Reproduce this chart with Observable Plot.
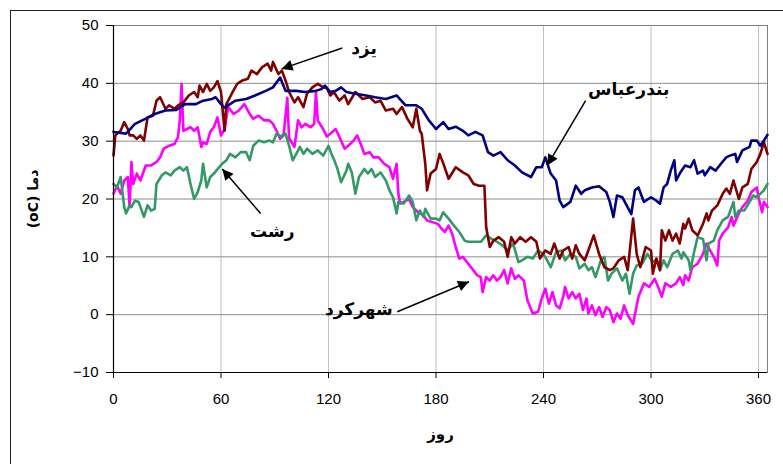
<!DOCTYPE html>
<html><head><meta charset="utf-8">
<script src="https://cdn.jsdelivr.net/npm/d3@7"></script>
<script src="https://cdn.jsdelivr.net/npm/@observablehq/plot@0.6"></script>
<style>
html,body{margin:0;padding:0;background:#fff;overflow:hidden;}
#wrap{position:relative;width:783px;height:464px;overflow:hidden;}
#frame{position:absolute;left:10px;top:10px;width:800px;height:500px;border:1px solid #222;box-sizing:border-box;pointer-events:none;}
#chart{position:absolute;left:0;top:0;}
#ytitle{position:absolute;left:-65px;top:189px;width:200px;height:20px;line-height:20px;text-align:center;
  transform:rotate(-90deg);transform-origin:50% 50%;font:bold 14px 'DejaVu Sans','Noto Sans',sans-serif;color:#000;direction:ltr;white-space:nowrap;}
</style></head><body>
<div id="wrap"><div id="chart"></div><div id="ytitle"></div><div id="frame"></div></div>
<script>
// Daily temperature (day, °C)
const bandarAbbas = [[0,31.6],[7,31.3],[12,33],[18,33.9],[23,34.7],[29,35.3],[35,35.4],[40,36.4],[46,36.4],[50,37],[55,37.3],[57,37.6],[60,36.4],[62,35.8],[68,37],[74,37.3],[79,37.9],[85,38.7],[89,39.3],[93,41],[96,38.7],[102,38.7],[107,38.5],[113,38.7],[116,39],[118,39.6],[121,38.5],[124,38.7],[127,39.3],[130,38.5],[135,38.2],[141,37.9],[146,37.6],[152,37.3],[158,37.9],[163,36.2],[169,36.2],[172,35.6],[176,33.6],[180,32.1],[184,33.3],[187,32.1],[191,32.5],[195,31.8],[198,31],[202,31.6],[206,31],[209,28.1],[212,27.5],[216,28.1],[220,26.7],[224,25.8],[228,24.6],[233,23.8],[236,25.5],[239,25.5],[241,27.2],[244,24.4],[247,23.2],[249,19.7],[251,18.6],[255,19.5],[258,22.3],[261,20.9],[263,21.5],[267,22],[271,22.2],[275,21.2],[277,19.5],[279,16.9],[281,20.6],[284,20.3],[289,17.4],[291,21.5],[293,22],[296,19.5],[300,20.3],[303,19.7],[305,19.2],[307,22],[309,22.6],[311,24.9],[313,26.7],[314,23.2],[316,24.4],[319,25.8],[322,25.5],[324,26.7],[326,24.4],[329,24.9],[330,24.1],[333,25.5],[336,24.9],[339,26.1],[342,27.2],[344,27.5],[347,27.8],[348,26.4],[351,28.4],[355,29],[356,30.1],[359,30.1],[361,29.2],[363,30.1],[365,31.1]];
const yazd = [[0,27.5],[1,31],[4,31.8],[6,33.3],[8,32.1],[9,31],[11,31],[13,30.4],[15,31],[17,30.1],[19,34.1],[22,34.4],[24,37],[26,37.6],[29,35.6],[31,36.2],[34,35.6],[36,36.2],[39,36.7],[42,37.9],[45,38.5],[47,37.6],[48,39.6],[50,38.5],[52,39.9],[54,38.7],[56,39.3],[58,40.4],[60,38.5],[62,31.8],[63,36.4],[66,38.2],[69,39.9],[72,40.5],[75,40.8],[77,42.2],[80,41.6],[83,42.8],[86,43.4],[88,42.2],[89,43.7],[92,41.6],[94,42.2],[96,40.5],[98,38.5],[101,36.7],[103,37.6],[106,35.9],[108,38.2],[111,39.3],[114,39.9],[117,39.3],[119,39.2],[121,37.9],[123,38.5],[126,37],[129,37.9],[131,36.4],[135,38.5],[139,37.3],[143,37.6],[146,36.7],[149,37],[152,35.3],[156,35.6],[158,34.7],[161,35.9],[164,33.9],[167,32.4],[169,35.6],[171,31.8],[172,31.3],[174,26.1],[175,21.5],[177,24.4],[180,25.2],[182,27.8],[184,26.2],[187,23.5],[191,25.5],[195,24.6],[198,24.1],[201,22.6],[204,22.3],[207,22.3],[208,15.1],[210,11.7],[212,12.8],[215,13.4],[218,12.6],[220,10],[222,13.4],[224,12.3],[227,13.4],[230,12.6],[233,13.4],[236,12.6],[238,9.7],[241,11.1],[244,10.5],[246,12.3],[249,9.7],[251,11.1],[254,11.7],[256,9.7],[258,12],[260,10.5],[263,9.4],[265,11.1],[268,13.7],[271,10.5],[274,8.2],[277,7.7],[279,8],[282,9.4],[285,10],[287,7.7],[290,16.6],[292,10.5],[294,8.2],[297,11.7],[300,11.1],[301,7.1],[303,9.7],[305,7.7],[306,14.6],[308,12.8],[310,14.6],[312,12.8],[314,14],[316,12.3],[318,15.7],[319,14.9],[321,16.6],[323,14.6],[326,13.7],[329,15.7],[331,17.5],[332,16.3],[334,18],[337,18.9],[340,20.9],[342,21.8],[344,20.9],[346,23.2],[349,20],[351,22],[354,22.6],[356,25.2],[359,26.4],[361,27.8],[363,29.8],[365,27.8]];
const shahrekord = [[0,20.9],[2,22.3],[4,20.9],[6,23.2],[8,23.8],[9,18.6],[10,26.4],[11,22.6],[13,24.4],[15,23.2],[18,25.8],[21,25.8],[24,26.4],[26,27.2],[28,28.7],[31,29.2],[34,29.5],[36,30.7],[37,33.6],[38,39.9],[39,31.8],[41,32.1],[43,32.4],[45,31.8],[47,32.4],[49,29],[50,29.8],[52,29.5],[54,31.6],[56,32.4],[58,34.1],[60,31],[62,32.1],[64,35.9],[67,34.7],[70,35.3],[73,36.4],[76,34.7],[78,33.9],[81,34.4],[84,33.6],[87,33.6],[89,33],[91,31.8],[93,30.4],[95,31.3],[97,37.5],[98,30.5],[101,29],[103,33.6],[105,32.4],[107,33],[110,32.4],[112,33],[113,38.5],[114,33.6],[117,32.1],[119,30.8],[121,31.3],[124,32.1],[127,30.1],[129,28.7],[131,29.2],[134,30.1],[136,31],[138,29.5],[140,27.8],[143,28.1],[145,27.2],[148,27.2],[151,26.1],[154,25.5],[156,23.5],[158,26.1],[159,20.9],[160,19.2],[162,19.5],[165,20],[167,18.6],[170,17.7],[173,17.2],[175,16.3],[178,16],[181,15.7],[183,14.9],[185,14.3],[187,15.4],[189,14],[191,11.7],[193,9.7],[195,10],[198,8.8],[200,8],[203,6.8],[205,6.5],[206,3.9],[208,6.5],[210,5.9],[212,6.8],[214,5.9],[216,6.5],[218,7.7],[220,5.4],[222,8],[224,6.2],[226,6.8],[229,5.9],[231,2.5],[234,0.2],[237,0.5],[239,2.8],[241,4.5],[243,1.9],[245,3.9],[247,1.6],[249,1.1],[251,3.1],[252,4.8],[254,2.8],[256,3.9],[258,2.8],[260,3.6],[262,0.8],[264,2.8],[265,0.2],[267,1.6],[269,-0.1],[271,1.3],[273,-0.4],[275,1.3],[277,0.8],[279,-1.3],[281,0.2],[283,-0.7],[285,1.6],[287,-0.1],[290,-1.6],[292,1.6],[293,3.1],[296,5.4],[299,4.8],[302,6.2],[304,4.8],[306,3.1],[308,5.4],[311,4.8],[314,5.4],[316,6.5],[318,5.1],[319,6.8],[321,5.9],[323,8.2],[326,8.8],[329,10.5],[331,12.3],[333,11.1],[335,10],[337,8.5],[338,12.8],[340,14],[343,15.1],[345,16.9],[346,15.4],[349,17.5],[351,18.6],[354,19.7],[356,21.2],[359,22],[360,20.3],[362,17.7],[363,19.5],[365,18.6]];
const rasht = [[0,22.6],[2,22],[4,23.8],[6,18.6],[7,17.5],[9,18.9],[10,18.6],[12,19.7],[14,19.5],[17,16.9],[19,18.9],[21,18],[23,18.3],[24,22.6],[27,24.1],[29,24.6],[32,24.1],[34,24.9],[37,25.5],[39,24.9],[41,25.5],[43,22.6],[45,20],[47,21.2],[49,23.2],[50,26.1],[52,22],[54,23.8],[56,24.4],[59,25.5],[61,26.2],[63,26.7],[65,27.8],[68,27.2],[71,28.1],[74,28.1],[76,26.7],[78,29.2],[81,30.1],[84,29.8],[87,30.1],[89,29.8],[91,31.3],[94,30.7],[96,31.3],[98,29.2],[100,26.7],[102,27.8],[104,29],[106,27.8],[108,28.7],[111,27.8],[114,28.4],[117,27.5],[120,29.2],[122,27.5],[123,26.9],[125,25.2],[127,22.9],[130,24.9],[131,26.1],[133,24.6],[135,20.9],[137,23.8],[140,25.2],[142,24.4],[144,25.2],[146,23.8],[149,24.6],[152,23.2],[154,21.5],[156,20.3],[158,17.5],[159,19.5],[162,19.2],[165,20.6],[167,19.5],[169,16.3],[171,18],[173,16.9],[174,18.3],[177,16.6],[180,16.6],[182,16.3],[184,17.7],[187,16.6],[190,15.4],[193,14.3],[196,12.8],[198,12.6],[202,12.6],[205,12.6],[208,13.7],[211,13.1],[213,12.8],[217,12],[220,11.1],[223,12.3],[226,9.1],[228,9.4],[231,10],[234,9.7],[237,11.1],[240,10.5],[242,9.4],[244,8.2],[247,10.8],[250,11.1],[252,9.4],[255,10.5],[258,10],[260,8],[263,8.8],[265,7.7],[267,8.2],[269,6.5],[272,9.4],[274,10],[276,5.9],[278,7.1],[281,8],[284,5.9],[286,7.1],[288,3.6],[290,7.1],[292,8.5],[295,8.8],[298,10.5],[301,9.1],[303,9.6],[305,7.7],[307,9.4],[309,8.2],[312,10.5],[315,11.1],[317,9.7],[318,10.8],[321,9.4],[322,7.7],[324,10.8],[326,13.4],[329,13.1],[331,9.4],[332,12.3],[335,12.8],[337,14.6],[340,16.3],[343,16.9],[346,19.5],[347,16.9],[349,18],[352,18],[355,19.5],[357,20.6],[359,20.3],[361,20.9],[363,21.5],[365,22.6]];

const seriesNames = ["شهرکرد", "رشت", "یزد", "بندرعباس"];
const seriesData = [shahrekord, rasht, yazd, bandarAbbas];
const seriesColors = ["#ff00ff", "#339966", "#800000", "#000080"];

const xTicks = [0, 60, 120, 180, 240, 300, 360];
const yTicks = [-10, 0, 10, 20, 30, 40, 50];
const xTitle = "روز";
const yTitle = "(oC) دما";

// Annotation labels and arrows (data units)
const labelText = ["یزد", "بندرعباس", "رشت", "شهرکرد"];
const labelDay = [139.8, 287.5, 88.6, 136.9];
const labelTemp = [46.0, 39.0, 14.3, 0.8];
const arrowFromDay = [127.7, 263.5, 82.1, 158.4];
const arrowFromTemp = [46.1, 37.0, 17.5, 0.5];
const arrowToDay = [93.8, 242.1, 60.7, 198.4];
const arrowToTemp = [42.5, 25.8, 25.2, 5.7];

const labels = labelText.map((t, i) => ({t, x: labelDay[i], y: labelTemp[i]}));
const arrows = arrowFromDay.map((d, i) => ({x1: d, y1: arrowFromTemp[i], x2: arrowToDay[i], y2: arrowToTemp[i]}));

const lineMarks = seriesData.map((s, i) =>
  Plot.line(s, {x: d => d[0], y: d => d[1], stroke: seriesColors[i], strokeWidth: 2.6, strokeLinejoin: "round"}));

const fa = "'DejaVu Sans', 'Noto Sans', sans-serif";

const chart = Plot.plot({
  width: 783, height: 464,
  marginLeft: 113, marginRight: 16, marginTop: 25, marginBottom: 92,
  style: {fontFamily: "'Liberation Sans', Arial, sans-serif", fontSize: "15px", background: "transparent", color: "#000"},
  x: {domain: [0, 365]},
  y: {domain: [-10, 50]},
  marks: [
    Plot.gridX(xTicks.filter(d => d > 0), {stroke: "#c0c0c0", strokeOpacity: 1}),
    Plot.gridY(yTicks, {stroke: "#8c8c8c", strokeOpacity: 1}),
    Plot.frame({stroke: "#808080"}),
    ...lineMarks,
    Plot.ruleX([0], {stroke: "#000", strokeWidth: 1.2}),
    Plot.ruleY([-10], {stroke: "#000", strokeWidth: 1.2}),
    Plot.axisX({ticks: xTicks, tickSize: 6, tickPadding: 15, label: null, fontSize: 15}),
    Plot.axisY({ticks: yTicks, tickSize: 7, tickPadding: 8, label: null, fontSize: 15}),
    Plot.link(arrows, {x1: "x1", y1: "y1", x2: "x2", y2: "y2", stroke: "#000", strokeWidth: 1.5}),
    Plot.text(labels, {x: "x", y: "y", text: "t", fontWeight: "bold", fontSize: 17, fontFamily: fa, fill: "#000"}),
    Plot.text([xTitle], {frameAnchor: "bottom", dy: 66, fontWeight: "bold", fontSize: 15, fontFamily: fa, fill: "#000"})
  ]
});

// filled triangular arrowheads on the annotation links
const ns = "http://www.w3.org/2000/svg";
const defs = document.createElementNS(ns, "defs");
const marker = document.createElementNS(ns, "marker");
marker.setAttribute("id", "ahead");
marker.setAttribute("viewBox", "0 0 10 10");
marker.setAttribute("refX", "10");
marker.setAttribute("refY", "5");
marker.setAttribute("markerUnits", "userSpaceOnUse");
marker.setAttribute("markerWidth", "15");
marker.setAttribute("markerHeight", "11");
marker.setAttribute("orient", "auto");
const mp = document.createElementNS(ns, "path");
mp.setAttribute("d", "M0,0L10,5L0,10Z");
mp.setAttribute("fill", "#000");
marker.appendChild(mp);
defs.appendChild(marker);
chart.insertBefore(defs, chart.firstChild);
chart.querySelectorAll('g[aria-label="link"] path').forEach(p => p.setAttribute("marker-end", "url(#ahead)"));

document.getElementById("chart").appendChild(chart);
document.getElementById("ytitle").textContent = yTitle;
</script>
</body></html>
